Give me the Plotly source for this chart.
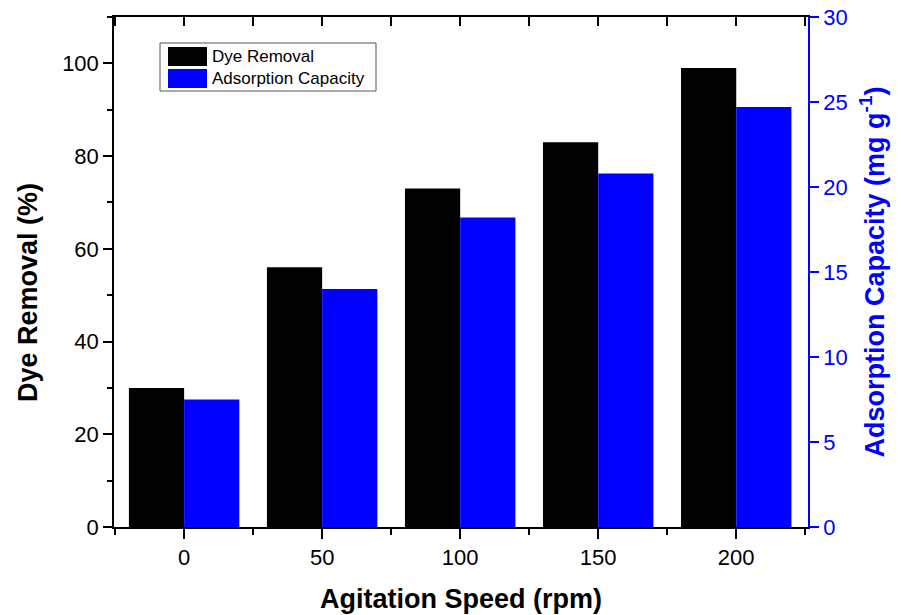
import plotly.graph_objects as go

speeds = [0, 50, 100, 150, 200]
dye_removal = [30, 56, 73, 83, 99]
adsorption_capacity = [7.5, 14.0, 18.2, 20.8, 24.7]
series_names = ["Dye Removal", "Adsorption Capacity"]

FONT = "Arial, Liberation Sans, sans-serif"
BLUE = "#0000ff"

fig = go.Figure()
fig.add_trace(go.Bar(x=speeds, y=dye_removal, name=series_names[0],
                     marker=dict(color="black", line=dict(width=0)),
                     width=20, offset=-20, yaxis="y", showlegend=False))
fig.add_trace(go.Bar(x=speeds, y=adsorption_capacity, name=series_names[1],
                     marker=dict(color=BLUE, line=dict(width=0)),
                     width=20, offset=0, yaxis="y2", showlegend=False))
# invisible trace to activate top axis
fig.add_trace(go.Scatter(x=[speeds[0]], y=[0], xaxis="x2", yaxis="y",
                         mode="markers", marker=dict(opacity=0), showlegend=False,
                         hoverinfo="skip"))

fig.update_layout(
    width=901, height=615,
    margin=dict(l=114, r=93, t=17, b=88, autoexpand=False),
    paper_bgcolor="white", plot_bgcolor="white",
    font=dict(family=FONT, size=22, color="black"),
    barmode="overlay",
    xaxis=dict(range=[-25.4, 226], tickvals=speeds, ticks="outside", ticklen=10,
               tickwidth=1.5, tickcolor="black", linecolor="black", linewidth=1.5,
               showgrid=False, zeroline=False, showline=True, automargin=False,
               minor=dict(ticks="outside", ticklen=6, dtick=25, tick0=0, tickwidth=1.5,
                          tickcolor="black", showgrid=False),
               title=dict(text="<b>Agitation Speed (rpm)</b>", font=dict(size=27), standoff=20),
               tickfont=dict(size=22)),
    xaxis2=dict(range=[-25.4, 226], overlaying="x", side="top", anchor="y",
                ticks="inside", ticklen=9, tickwidth=1.5, tickcolor="black", dtick=25, tick0=0,
                showticklabels=False, showline=True, linecolor="black", linewidth=1.5,
                showgrid=False, zeroline=False, automargin=False),
    yaxis=dict(range=[0, 110], dtick=20, ticks="outside", ticklen=9, tickwidth=1.5,
               tickcolor="black", linecolor="black", linewidth=1.5, showline=True,
               showgrid=False, zeroline=False, automargin=False,
               minor=dict(ticks="outside", ticklen=5, dtick=10, tickwidth=1.5,
                          tickcolor="black", showgrid=False),
               tickfont=dict(size=22)),
    yaxis2=dict(range=[0, 30], dtick=5, overlaying="y", side="right", anchor="x",
                ticks="outside", ticklen=9, tickwidth=1.5, tickcolor=BLUE,
                linecolor=BLUE, linewidth=1.5, showline=True, showgrid=False, zeroline=False,
                automargin=False,
                tickfont=dict(size=22, color=BLUE),
                title=dict(text="<b>Adsorption Capacity (mg g<sup>-1</sup>)</b>",
                           font=dict(size=27, color=BLUE), standoff=18)),
)

# left axis title (placed slightly below centre, as in the reference)
px_w, px_h = 694, 510
def px(xp):
    return (xp - 114) / px_w
def py(yp):
    return (527 - yp) / px_h

fig.add_annotation(xref="paper", yref="paper", x=px(28), y=py(293),
                   text="<b>Dye Removal (%)</b>", textangle=-90, showarrow=False,
                   xanchor="center", yanchor="middle",
                   font=dict(size=27, color="black", family=FONT))

# custom legend (large swatches)
fig.add_shape(type="rect", xref="paper", yref="paper", x0=px(160), x1=px(376),
              y0=py(91), y1=py(43), line=dict(color="#555555", width=1), fillcolor="white")
legend_colors = ["black", BLUE]
rows = [(47, 66), (69, 88)]
for name, col, (t, b) in zip(series_names, legend_colors, rows):
    fig.add_shape(type="rect", xref="paper", yref="paper", x0=px(168), x1=px(207),
                  y0=py(b), y1=py(t), line=dict(width=0), fillcolor=col)
    fig.add_annotation(xref="paper", yref="paper", x=px(210), y=py((t + b) / 2),
                       text=name, showarrow=False, xanchor="left", yanchor="middle",
                       font=dict(size=17, color="black", family=FONT))

fig.write_html("out.html")
